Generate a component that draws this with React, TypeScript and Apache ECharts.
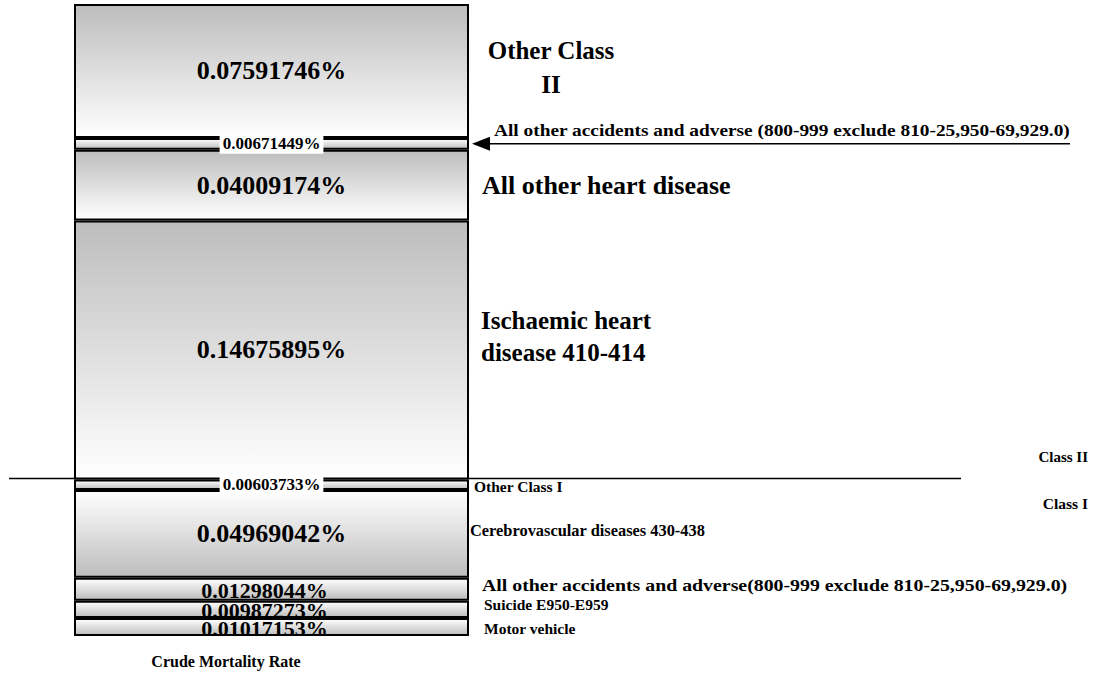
import React, { useEffect, useRef } from "react";
import * as echarts from "echarts";

const categories = [
  "Motor vehicle",
  "Suicide E950-E959",
  "All other accidents and adverse(800-999 exclude 810-25,950-69,929.0)",
  "Cerebrovascular diseases 430-438",
  "Other Class I",
  "Ischaemic heart disease 410-414",
  "All other heart disease",
  "All other accidents and adverse (800-999 exclude 810-25,950-69,929.0)",
  "Other Class II",
];
const values = [
  0.01017153, 0.00987273, 0.01298044, 0.04969042, 0.00603733, 0.14675895,
  0.04009174, 0.00671449, 0.07591746,
];
const classOf = ["I", "I", "I", "I", "I", "II", "II", "II", "II"];
const labelKind = ["mid", "mid", "mid", "big", "boxed", "big", "big", "boxed", "big"];
const axisName = "Crude Mortality Rate";

const FONT = "'Liberation Serif', 'Times New Roman', serif";

export default function App() {
  const ref = useRef<HTMLDivElement>(null);
  useEffect(() => {
    const el = ref.current!;
    const chart = echarts.init(el, null, { renderer: "svg" });
    const total = values.reduce((a, b) => a + b, 0);

    const series = values.map((v, i) => {
      const kind = labelKind[i];
      const grey = "#bdbdbd";
      const white = "#ffffff";
      const isBigII = classOf[i] === "II" && kind === "big";
      const color = new echarts.graphic.LinearGradient(0, 0, 0, 1, [
        { offset: 0, color: isBigII ? grey : white },
        { offset: 1, color: isBigII ? white : grey },
      ]);
      const label: any = {
        show: true,
        position: "inside",
        formatter: `${v}%`,
        color: "#000",
        fontFamily: FONT,
        fontWeight: "bold",
        fontSize: kind === "big" ? 26 : kind === "mid" ? 22 : 17,
      };
      if (kind === "mid") label.offset = [-7, 1];
      if (kind === "boxed") {
        label.backgroundColor = "#fff";
        label.padding = [2, 3, 1, 3];
      }
      return {
        name: categories[i],
        type: "bar",
        stack: "total",
        barWidth: "100%",
        data: [v],
        itemStyle: { color, borderColor: "#000", borderWidth: 2 },
        label,
        emphasis: { disabled: true },
      };
    });

    chart.setOption({
      animation: false,
      grid: { left: 74, right: 624, top: 4, bottom: 41 },
      xAxis: {
        type: "category",
        data: [axisName],
        show: false,
      },
      yAxis: {
        type: "value",
        min: 0,
        max: total,
        show: false,
      },
      series,
    });

    let cum = 0;
    const cums: number[] = [];
    values.forEach((v) => {
      cums.push(cum);
      cum += v;
    });
    const yPix = (v: number) => chart.convertToPixel({ yAxisIndex: 0 }, v) as number;
    const dividerY = yPix(cums[5]);
    const arrowY = yPix(cums[7] + values[7] / 2);

    const txt = (
      text: string,
      x: number,
      y: number,
      size: number,
      align: string = "left",
      lineHeight?: number,
      scaleX: number = 1
    ) => ({
      type: "text",
      x,
      y,
      scaleX,
      style: {
        text,
        x: 0,
        y: 0,
        fill: "#000",
        fontFamily: FONT,
        fontWeight: "bold",
        fontSize: size,
        textAlign: align,
        textVerticalAlign: "middle",
        lineHeight: lineHeight || size * 1.2,
      },
    });

    chart.setOption({
      graphic: [
        txt("Other Class\nII", 551, 67, 25, "center", 34),
        txt(categories[7], 494, 131, 16, "left", undefined, 1.21),
        {
          type: "line",
          shape: { x1: 488, y1: arrowY, x2: 1070, y2: arrowY },
          style: { stroke: "#000", lineWidth: 1.5 },
        },
        {
          type: "polygon",
          shape: {
            points: [
              [472, arrowY],
              [490, arrowY - 7],
              [490, arrowY + 7],
            ],
          },
          style: { fill: "#000" },
        },
        txt(categories[6], 482, 185, 26),
        txt("Ischaemic heart\ndisease 410-414", 481, 336, 25, "left", 32),
        txt("Class II", 1088, 457, 15, "right"),
        {
          type: "line",
          shape: { x1: 9, y1: dividerY - 1, x2: 961, y2: dividerY - 1 },
          style: { stroke: "#000", lineWidth: 1.5 },
        },
        txt(categories[4], 474, 486, 15.5),
        txt("Class I", 1088, 503, 15.5, "right"),
        txt(categories[3], 470, 530, 16.4),
        txt(categories[2], 482, 586, 16, "left", undefined, 1.24),
        txt(categories[1], 484, 604, 15.5),
        txt(categories[0], 484, 628, 15.5),
        txt(axisName, 226, 661, 16, "center"),
      ],
    });

    return () => chart.dispose();
  }, []);
  return (
    <div
      ref={ref}
      style={{ position: "fixed", left: 0, top: 0, width: 1093, height: 677, background: "#fff" }}
    />
  );
}
